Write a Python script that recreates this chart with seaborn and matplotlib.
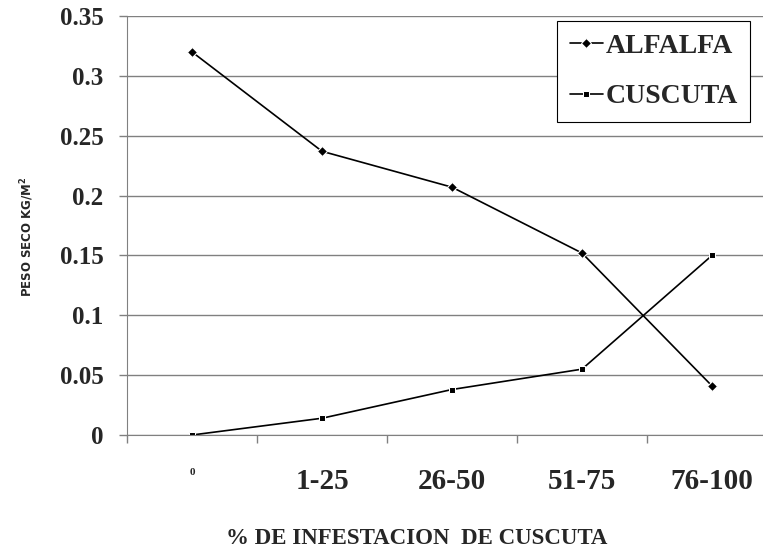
import matplotlib
matplotlib.use('Agg')
import matplotlib.pyplot as plt
import seaborn as sns
import pandas as pd

categorias = ['0', '1-25', '26-50', '51-75', '76-100']
alfalfa = [0.32, 0.237, 0.207, 0.152, 0.041]
cuscuta = [0.0, 0.014, 0.038, 0.055, 0.150]

df = pd.DataFrame({
    'infestacion': categorias * 2,
    'peso': alfalfa + cuscuta,
    'serie': ['ALFALFA'] * 5 + ['CUSCUTA'] * 5,
})

sns.set_style('white')
plt.rcParams['font.family'] = ['Liberation Serif', 'DejaVu Serif']

fig = plt.figure(figsize=(7.63, 5.52), dpi=100)
ax = fig.add_axes([127 / 763, 117 / 552, 650 / 763, 419 / 552])

sns.lineplot(data=df, x='infestacion', y='peso', style='serie', markers={'ALFALFA': 'D', 'CUSCUTA': 's'},
             dashes=False, color='black', linewidth=1.2, markersize=5, ax=ax, sort=False)

ax.set_xlim(-0.5, 4.5)
ax.set_ylim(0, 0.35)
ax.set_yticks([0, 0.05, 0.1, 0.15, 0.2, 0.25, 0.3, 0.35])
ax.set_yticklabels(['0', '0.05', '0.1', '0.15', '0.2', '0.25', '0.3', '0.35'])
ax.yaxis.grid(True, color='#808080', linewidth=1.0)
ax.set_axisbelow(True)

# ticks en los limites de cada categoria, etiquetas en el centro
ax.set_xticks([-0.5, 0.5, 1.5, 2.5, 3.5])
ax.set_xticklabels([])
ax.set_xticks(range(5), minor=True)
ax.set_xticklabels(categorias, minor=True)
ax.tick_params(axis='x', which='major', direction='out', length=6, width=1, color='#808080', bottom=True)
ax.tick_params(axis='x', which='minor', length=0, pad=24, labelsize=21)
ax.tick_params(axis='y', direction='out', length=6, width=1, color='#808080', left=True, pad=11, labelsize=18)
for lbl in ax.get_xticklabels(minor=True):
    lbl.set_fontweight('bold')
ax.get_xticklabels(minor=True)[0].set_fontsize(8)
for lbl in ax.get_yticklabels():
    lbl.set_fontweight('bold')

for s in ['top', 'right']:
    ax.spines[s].set_visible(False)
ax.spines['left'].set_color('#808080')
ax.spines['bottom'].set_color('#808080')

ax.set_xlabel('% DE INFESTACION  DE CUSCUTA', fontsize=16.5, fontweight='bold')
ax.xaxis.set_label_coords(0.445, -0.222)
ax.set_ylabel('PESO SECO KG/M$^{\\mathbf{2}}$', fontsize=8.5, fontweight='bold', family='DejaVu Sans')
ax.yaxis.set_label_coords(-0.14, 0.473)

leg = ax.legend(title=None, loc='upper left', bbox_to_anchor=(557 / 763, 1 - 21 / 552),
                bbox_transform=fig.transFigure, fancybox=False, edgecolor='black', framealpha=1,
                prop={'weight': 'bold', 'size': 20}, handlelength=1.2, handletextpad=0.1,
                labelspacing=0.9, borderpad=0.45, borderaxespad=0)
leg.get_frame().set_linewidth(0.8)

fig.savefig('out.png', dpi=100)
